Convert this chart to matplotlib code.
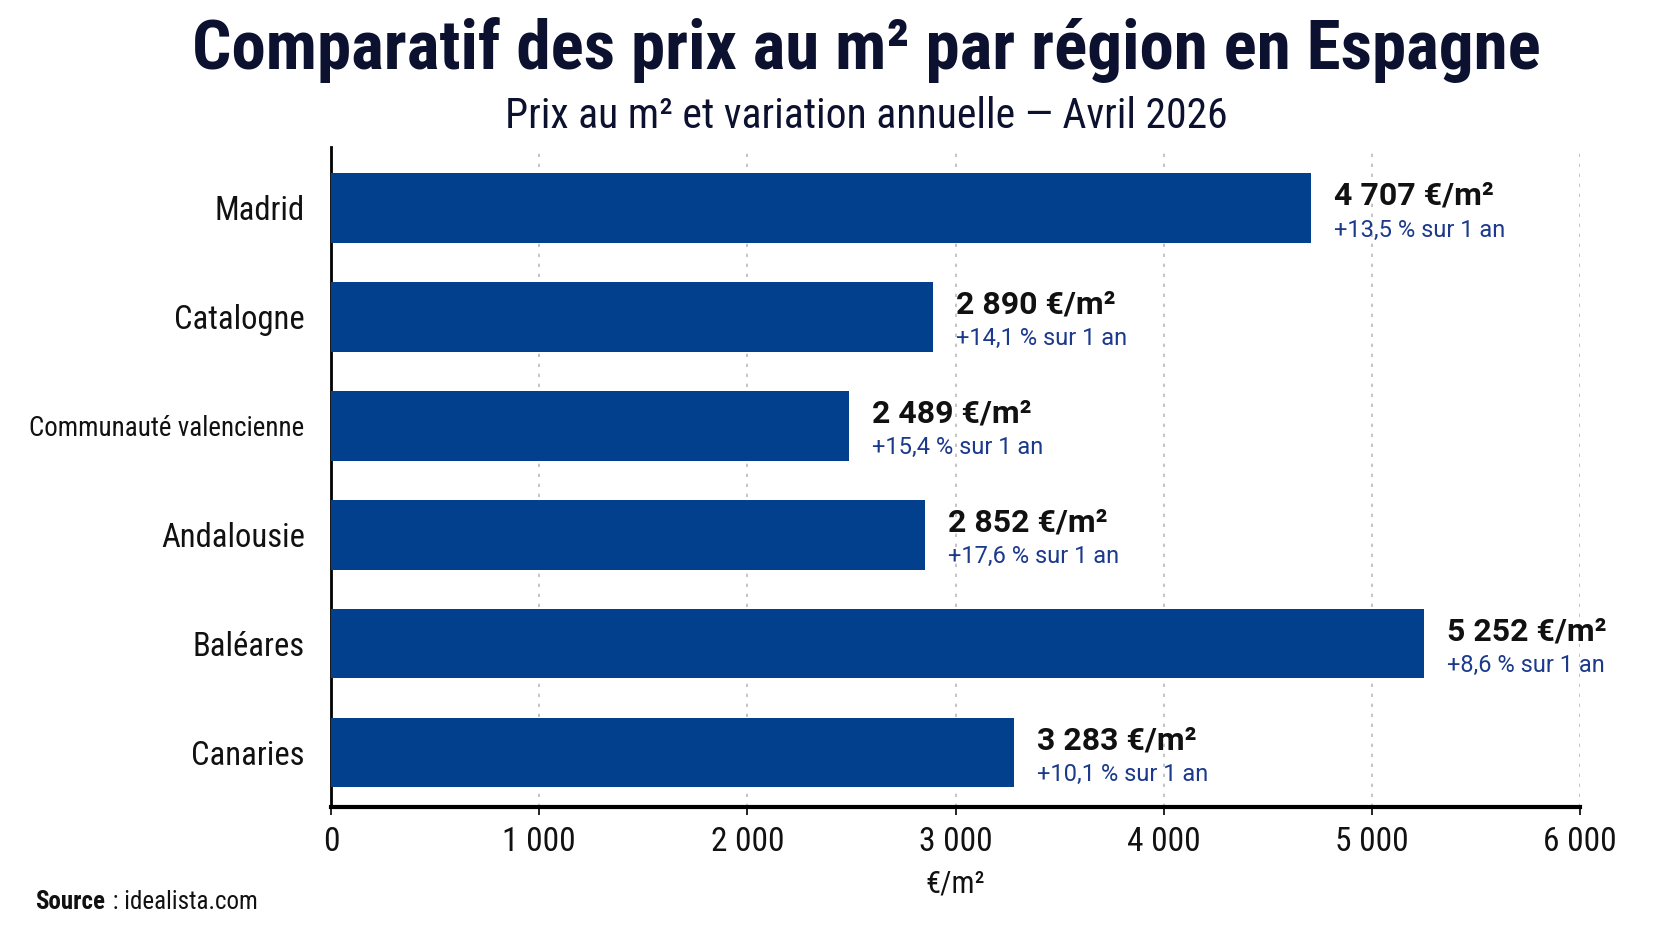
import numpy as np
import matplotlib
matplotlib.use('Agg')
from matplotlib import pyplot as plt
from matplotlib import font_manager

# Data
regions = ['Madrid', 'Catalogne', 'Communauté valencienne', 'Andalousie', 'Baléares', 'Canaries']
prix = [4707, 2890, 2489, 2852, 5252, 3283]
variation = ['+13,5', '+14,1', '+15,4', '+17,6', '+8,6', '+10,1']
x_ticks = [0, 1000, 2000, 3000, 4000, 5000, 6000]
x_tick_labels = ['0', '1 000', '2 000', '3 000', '4 000', '5 000', '6 000']

bar_color = '#023F8C'
dark = '#0d1130'
blue_txt = '#1c3a8c'

# pick a narrow family if one is installed
installed = {f.name for f in font_manager.fontManager.ttflist}
narrow = [f for f in ['Roboto Condensed', 'Liberation Sans Narrow', 'Lato']
          if f in installed] + ['DejaVu Sans']
label_font = [f for f in ['Roboto', 'Open Sans'] if f in installed] + ['DejaVu Sans']

fig = plt.figure(figsize=(16.72, 9.41), dpi=100)
ax = fig.add_axes([0.198, 0.1424, 0.747, 0.7014])

y = np.arange(len(regions))[::-1]
ax.barh(y, prix, height=0.64, color=bar_color, zorder=3)

ax.set_xlim(0, 6000)
ax.set_ylim(-0.5, 5.56)
ax.set_xticks(x_ticks)
ax.set_xticklabels(x_tick_labels, fontsize=24, family=narrow, color='#111111')
ax.set_yticks(y)
ax.set_yticklabels(regions, fontsize=23.5, family=narrow, color='#111111')
ax.tick_params(axis='y', length=0, pad=19)
ax.tick_params(axis='x', length=6, width=1.2, pad=8)

for s in ['top', 'right']:
    ax.spines[s].set_visible(False)
ax.spines['left'].set_linewidth(2)
ax.spines['bottom'].set_linewidth(3)
ax.xaxis.grid(True, linestyle=(0, (2, 4)), color='#bbbbbb', linewidth=1.2, zorder=0)

# value labels
for yi, p, v in zip(y, prix, variation):
    txt = f'{p:,}'.replace(',', ' ') + ' €/m²'
    ax.annotate(txt, (p, yi), xytext=(23, 12), textcoords='offset pixels',
                ha='left', va='center', fontsize=23, fontweight='bold',
                color='#111111', family=label_font)
    ax.annotate(f'{v} % sur 1 an', (p, yi), xytext=(23, -22), textcoords='offset pixels',
                ha='left', va='center', fontsize=17, color=blue_txt, family=label_font)

ax.set_xlabel('€/m²', fontsize=22, family=narrow, color='#111111', labelpad=8)

title = fig.text(0.518, 0.947, 'Comparatif des prix au m² par région en Espagne', ha='center',
                 va='center', fontsize=48, fontweight='bold', color=dark, family=narrow)
sub = fig.text(0.518, 0.876, 'Prix au m² et variation annuelle — Avril 2026', ha='center',
               va='center', fontsize=30, color=dark, family=narrow)
src = fig.text(0.021, 0.041, 'Source', ha='left', va='center', fontsize=18,
               fontweight='bold', color='#111111', family=narrow)

renderer = fig.canvas.get_renderer()

# rest of the source line, just after the bold word
rest = fig.text(0, 0.041, ' : idealista.com', ha='left', va='center', fontsize=18,
                color='#111111', family=narrow)
bb = src.get_window_extent(renderer)
rest.set_position(((bb.x1 + 2) / fig.bbox.width, 0.041))

# set texts to the widths seen in the reference
def fit(t, width_px, grow=True):
    for _ in range(2):
        w = t.get_window_extent(renderer).width
        if w > width_px or grow:
            t.set_fontsize(t.get_fontsize() * width_px / w)

fit(title, 1349)
fit(sub, 722)
for t in ax.get_yticklabels():
    if t.get_text() == 'Communauté valencienne':
        fit(t, 276, grow=False)

fig.savefig('out.png', dpi=100, facecolor='white')
